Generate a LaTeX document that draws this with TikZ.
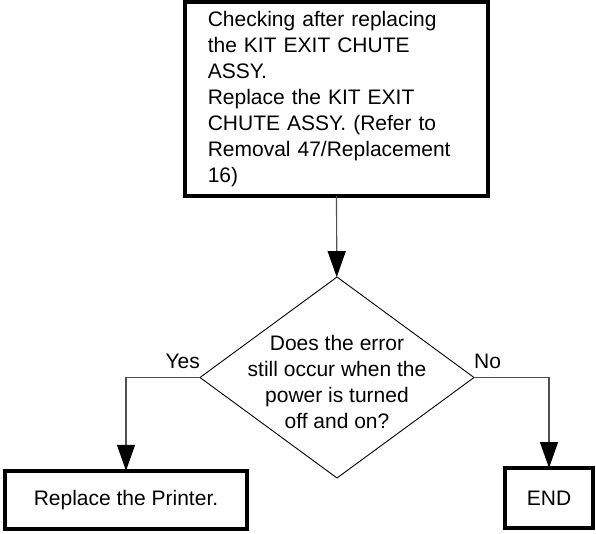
\documentclass[tikz,border=0pt]{standalone}
\usepackage{fontspec}
\setmainfont{Liberation Sans}
\usetikzlibrary{arrows.meta,shapes.geometric}
\definecolor{flowline}{RGB}{80,80,80}

\begin{document}
\begin{tikzpicture}[x=1pt, y=-1pt,
    font=\fontsize{21}{26}\selectfont,
    stepbox/.style={draw, line width=4pt, inner sep=0pt, outer sep=0pt},
    decision/.style={draw, diamond, line width=0.9pt, minimum width=274pt, minimum height=201pt, inner sep=0pt, outer sep=0pt},
    flow/.style={-{Triangle[length=26pt,width=18pt,color=black]}, flowline, line width=1.2pt}]
  \useasboundingbox (0,0) rectangle (596,533);
  % checking box on top
  \node[stepbox, minimum width=303.5pt, minimum height=194pt, text width=257pt, align=left] (info) at (336.3,99) {Checking after replacing\\the KIT EXIT CHUTE\\ASSY.\\Replace the KIT EXIT\\CHUTE ASSY. (Refer to\\Removal 47/Replacement\\16)};
  % question
  \node[decision] (check) at (337,377.5) {};
  \node[align=center, inner sep=0pt] (question) at ([yshift=-4pt]check.center) {Does the error\\still occur when the\\power is turned\\off and on?};
  % results
  \node[stepbox, minimum width=242pt, minimum height=58.5pt] (replace) at (126,500) {Replace the Printer.};
  \node[stepbox, minimum width=88pt, minimum height=60pt] (done) at (549,498) {END};
  \draw[flow] (info) -- (check);
  \draw[flow] (check.west) -| (replace.north);
  \draw[flow] (check.east) -| (done.north);
  \node[anchor=base east, inner sep=0pt] (yes) at ([yshift=9pt]check.west) {Yes};
  \node[anchor=base west, inner sep=0pt] (no) at ([yshift=9pt]check.east) {No};
\end{tikzpicture}
\end{document}
